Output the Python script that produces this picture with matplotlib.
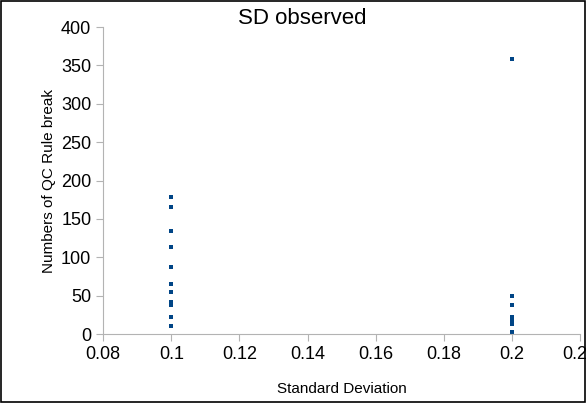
import matplotlib
matplotlib.use("Agg")
from matplotlib import pyplot as plt

plt.rcParams['font.family'] = ['Liberation Sans', 'DejaVu Sans']

# data
sd_left = [0.1] * 11
breaks_left = [178, 165, 134, 113, 87, 65, 55, 42, 38, 22, 10]
sd_right = [0.2] * 7
breaks_right = [358, 50, 38, 22, 18, 13, 3]

point_color = '#004586'

fig = plt.figure(figsize=(5.86, 4.03), dpi=100)
ax = fig.add_axes([0.176, 0.171, 0.814, 0.762])

ax.scatter(sd_left + sd_right, breaks_left + breaks_right, marker='s', s=9,
           color=point_color, linewidths=0, clip_on=False)

ax.set_xlim(0.08, 0.22)
ax.set_ylim(0, 400)
ax.set_xticks([0.08, 0.1, 0.12, 0.14, 0.16, 0.18, 0.2, 0.22])
ax.set_xticklabels(['0.08', '0.1', '0.12', '0.14', '0.16', '0.18', '0.2', '0.22'])
ax.set_yticks(range(0, 401, 50))

for side in ['top', 'right']:
    ax.spines[side].set_visible(False)
ax.spines['left'].set_color('#b3b3b3')
ax.spines['bottom'].set_color('#b3b3b3')
ax.tick_params(colors='#b3b3b3', labelcolor='black', labelsize=13, length=5)

ax.set_xlabel('Standard Deviation', fontsize=11, labelpad=14)
ax.set_ylabel('Numbers of QC Rule break', fontsize=11)
fig.text(0.515, 0.94, 'SD observed', fontsize=16, ha='center')

fig.patches.append(plt.Rectangle((0.002, 0.002), 0.996, 0.996, transform=fig.transFigure,
                                 fill=False, edgecolor='black', linewidth=1.2))

plt.savefig('out.png')
